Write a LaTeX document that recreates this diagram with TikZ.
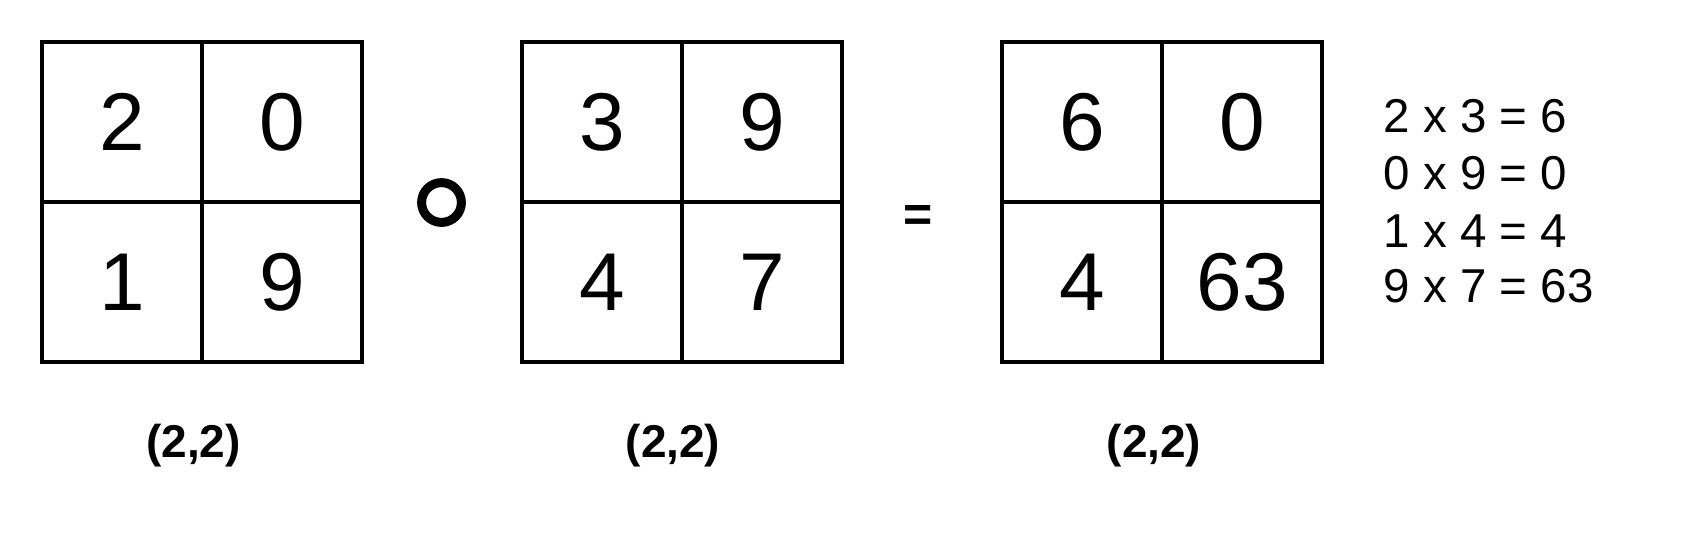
\documentclass[tikz,border=0pt]{standalone}
\usepackage{fontspec}
\setmainfont{Liberation Sans}
\begin{document}
\begin{tikzpicture}[x=1pt,y=-1pt,
  cell/.style={draw, line width=4pt, minimum width=160pt, minimum height=160pt, inner sep=0pt,
               font=\fontsize{82}{98}\selectfont},
  dimlabel/.style={font=\bfseries\fontsize{46}{52}\selectfont, inner sep=0pt, anchor=base},
  eqline/.style={font=\fontsize{47.5}{57}\selectfont, inner sep=0pt, anchor=base west},
  opsym/.style={font=\bfseries\fontsize{50}{56}\selectfont, inner sep=0pt}]
\fill[white] (0,0) rectangle (1688,544);
\useasboundingbox (0,0) rectangle (1688,544);
% matrix A
\node[cell] (a11) at (122,122) {2};
\node[cell] (a12) at (282,122) {0};
\node[cell] (a21) at (122,282) {1};
\node[cell] (a22) at (282,282) {9};
% matrix B
\node[cell] (b11) at (602,122) {3};
\node[cell] (b12) at (762,122) {9};
\node[cell] (b21) at (602,282) {4};
\node[cell] (b22) at (762,282) {7};
% matrix C
\node[cell] (c11) at (1082,122) {6};
\node[cell] (c12) at (1242,122) {0};
\node[cell] (c21) at (1082,282) {4};
\node[cell] (c22) at (1242,282) {63};
% operators
\node[draw, circle, line width=9pt, minimum size=39.8pt, inner sep=0pt] (hadamard) at (441.5,202.5) {};
\node[opsym] (equals) at (918,218) {=};
% dimension labels
\node[dimlabel] (da) at (193.5,457) {(2,2)};
\node[dimlabel] (db) at (673,457) {(2,2)};
\node[dimlabel] (dc) at (1154,457) {(2,2)};
% element-wise products
\node[eqline] (e1) at (1383.5,132.3) {2 x 3 = 6};
\node[eqline] (e2) at (1383.5,189.3) {0 x 9 = 0};
\node[eqline] (e3) at (1383.5,247.7) {1 x 4 = 4};
\node[eqline] (e4) at (1383.5,302.7) {9 x 7 = 63};
\end{tikzpicture}
\end{document}
